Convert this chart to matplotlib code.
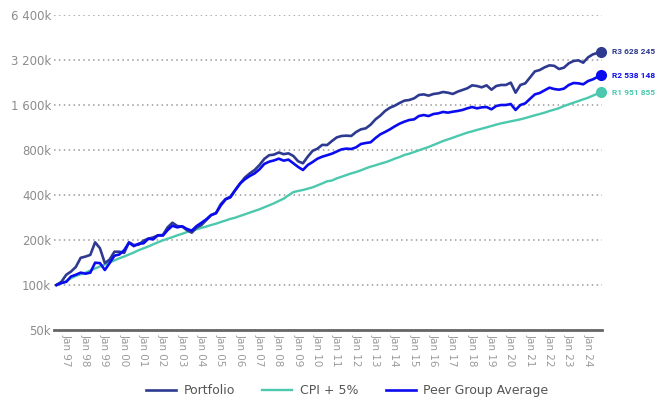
import matplotlib
matplotlib.use('Agg')
import matplotlib.pyplot as plt
import pandas as pd

# quarterly readings (in thousands), Jul 1996 .. Apr 2024, plus the final Aug 2024 value
dates = list(pd.date_range('1996-07-01', periods=112, freq='QS')) + [pd.Timestamp('2024-08-31')]

portfolio = [100, 105, 117, 123, 132, 152, 155, 159, 193, 176,
             140, 148, 167, 167, 164, 193, 185, 186, 198, 204,
             208, 215, 216, 243, 261, 248, 246, 233, 224, 242,
             252, 272, 293, 303, 348, 376, 390, 432, 478, 524,
             558, 588, 635, 697, 738, 745, 770, 750, 760, 730,
             672, 652, 722, 790, 817, 866, 863, 919, 972, 993,
             998, 993, 1056, 1100, 1117, 1182, 1283, 1358, 1459, 1535,
             1584, 1650, 1711, 1728, 1773, 1867, 1885, 1848, 1896, 1915,
             1955, 1934, 1896, 1965, 2016, 2069, 2166, 2144, 2101, 2166,
             2026, 2144, 2178, 2178, 2258, 1934, 2178, 2234, 2450, 2686,
             2742, 2858, 2947, 2925, 2786, 2843, 3040, 3152, 3184, 3070,
             3334, 3491, 3628.245]

peer = [100, 103, 105, 114, 117, 121, 119, 121, 141, 140,
        126, 140, 157, 160, 171, 192, 182, 189, 190, 204,
        202, 215, 214, 233, 249, 243, 247, 237, 231, 248,
        261, 275, 294, 302, 341, 374, 386, 432, 478, 510,
        536, 558, 594, 645, 668, 681, 700, 679, 690, 652,
        616, 588, 635, 665, 700, 722, 738, 756, 782, 808,
        817, 812, 834, 878, 891, 901, 962, 1018, 1056, 1100,
        1152, 1200, 1238, 1270, 1283, 1350, 1371, 1350, 1393, 1407,
        1438, 1422, 1443, 1459, 1482, 1520, 1551, 1520, 1543, 1551,
        1497, 1576, 1600, 1600, 1625, 1482, 1600, 1642, 1763, 1885,
        1925, 2006, 2090, 2046, 2026, 2058, 2178, 2245, 2234, 2200,
        2315, 2376, 2538.148]

cpi = [100, 103, 106, 111, 115, 118, 121, 125, 129, 133,
       137, 142, 146, 151, 155, 160, 165, 171, 176, 181,
       187, 193, 199, 204, 209, 215, 220, 226, 231, 236,
       241, 246, 252, 257, 264, 270, 277, 282, 290, 297,
       305, 313, 321, 331, 341, 352, 365, 378, 398, 418,
       426, 432, 441, 450, 464, 478, 494, 500, 517, 530,
       544, 558, 570, 585, 603, 619, 632, 648, 661, 679,
       700, 718, 741, 756, 776, 796, 817, 838, 864, 891,
       919, 942, 967, 993, 1018, 1045, 1066, 1089, 1111, 1134,
       1158, 1182, 1206, 1225, 1244, 1263, 1283, 1308, 1337, 1365,
       1393, 1422, 1459, 1489, 1524, 1576, 1616, 1658, 1700, 1746,
       1790, 1848, 1951.855]

end_labels = ['R3 628 245', 'R2 538 148', 'R1 951 855']
y_ticks = [50, 100, 200, 400, 800, 1600, 3200, 6400]
y_labels = ['50k', '100k', '200k', '400k', '800k', '1 600k', '3 200k', '6 400k']
tick_years = list(range(1997, 2025))

c_port = '#2E3A8F'
c_cpi = '#4BC8AE'
c_peer = '#0B0BF0'

fig = plt.figure(figsize=(6.59, 4.01), dpi=100)
ax = fig.add_axes([54 / 659, 1 - 330 / 401, 548 / 659, 315 / 401])

ax.plot(dates, cpi, color=c_cpi, lw=1.7, label='CPI + 5%', zorder=3)
ax.plot(dates, portfolio, color=c_port, lw=1.9, label='Portfolio', zorder=4)
ax.plot(dates, peer, color=c_peer, lw=1.9, label='Peer Group Average', zorder=5)

# end markers + value labels
for series, col, txt in [(portfolio, c_port, end_labels[0]),
                         (peer, c_peer, end_labels[1]),
                         (cpi, c_cpi, end_labels[2])]:
    ax.plot(dates[-1], series[-1], 'o', color=col, ms=7, zorder=6, clip_on=False)
    ax.annotate(txt, (dates[-1], series[-1]), xytext=(8, 0), textcoords='offset points',
                va='center', ha='left', fontsize=6, fontweight='bold', color=col,
                family='Roboto', annotation_clip=False)

ax.set_yscale('log', base=2)
ax.set_ylim(50, 6400)
ax.set_yticks(y_ticks)
ax.set_yticklabels(y_labels)
ax.minorticks_off()

ax.set_xlim(pd.Timestamp('1996-05-15'), pd.Timestamp('2024-09-20'))
ax.set_xticks([pd.Timestamp(f'{y}-01-01') for y in tick_years])
ax.set_xticklabels([f'Jan {str(y)[2:]}' for y in tick_years], rotation=-90)

ax.tick_params(axis='y', length=0, pad=2, labelsize=8.5, labelcolor='#8c8c8c')
ax.tick_params(axis='x', length=0, pad=3, labelsize=7.5, labelcolor='#9a9a9a')

ax.grid(axis='y', linestyle=(0, (1, 2.2)), color='#9a9a9a', lw=1.1)
for s in ['top', 'right', 'left']:
    ax.spines[s].set_visible(False)
ax.spines['bottom'].set_color('#666666')
ax.spines['bottom'].set_linewidth(2)

handles, labels = ax.get_legend_handles_labels()
order = [1, 0, 2]
fig.legend([handles[i] for i in order], [labels[i] for i in order],
           loc='center', bbox_to_anchor=(0.527, 0.025), ncol=3, frameon=False,
           fontsize=9, handlelength=2.4, columnspacing=2.2, handletextpad=0.6,
           labelcolor='#555555')

plt.savefig('out.png', dpi=100)
